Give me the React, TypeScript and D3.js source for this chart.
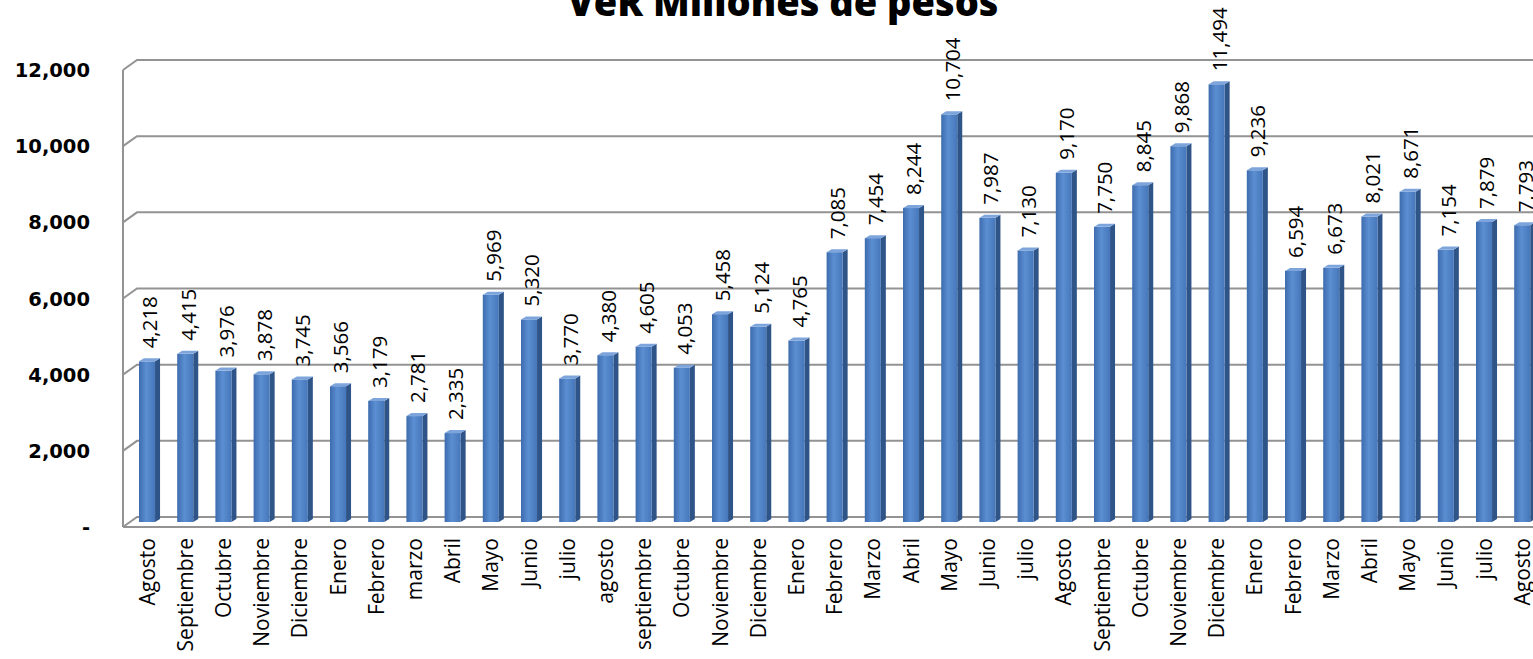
import * as d3 from 'd3';

const months = [
  'Agosto', 'Septiembre', 'Octubre', 'Noviembre', 'Diciembre', 'Enero', 'Febrero', 'marzo', 'Abril',
  'Mayo', 'Junio', 'julio', 'agosto', 'septiembre', 'Octubre', 'Noviembre', 'Diciembre', 'Enero',
  'Febrero', 'Marzo', 'Abril', 'Mayo', 'Junio', 'julio', 'Agosto', 'Septiembre', 'Octubre',
  'Noviembre', 'Diciembre', 'Enero', 'Febrero', 'Marzo', 'Abril', 'Mayo', 'Junio', 'julio', 'Agosto',
];

const ver = [
  4218, 4415, 3976, 3878, 3745, 3566, 3179, 2781, 2335,
  5969, 5320, 3770, 4380, 4605, 4053, 5458, 5124, 4765,
  7085, 7454, 8244, 10704, 7987, 7130, 9170, 7750, 8845,
  9868, 11494, 9236, 6594, 6673, 8021, 8671, 7154, 7879, 7793,
];

const yTicks = [0, 2000, 4000, 6000, 8000, 10000, 12000];

const W = 1533;
const H = 659;
const depth = 5; // half of the wall depth in px
const wallFront = 123;
const wallBack = 137;

export default function App() {
  const ids = months.map((m, i) => `${i}`);
  const step = 38.2;
  const pad = 0.58;
  const x = d3.scaleBand().domain(ids).range([139, 139 + step * (ids.length - pad)]).paddingInner(pad).paddingOuter(0);
  const y = d3.scaleLinear().domain([0, 12000]).range([522, 65]);
  const fmt = d3.format(',');
  const bw = x.bandwidth();
  const side = 5;

  return (
    <svg width={W} height={H} style={{ position: 'absolute', left: 0, top: 0, background: '#fff' }}>
      <defs>
        <linearGradient id="face" x1="0" x2="1" y1="0" y2="0">
          <stop offset="0" stopColor="#3d6cae" />
          <stop offset="0.45" stopColor="#5b8ed2" />
          <stop offset="1" stopColor="#4677ba" />
        </linearGradient>
      </defs>

      <text x={783} y={16} textAnchor="middle" fontFamily="Open Sans, sans-serif" fontWeight={800} fontSize={38} fill="#000">
        VeR Millones de pesos
      </text>

      {/* walls and gridlines */}
      <g stroke="#939393" strokeWidth={2} fill="none">
        <line x1={wallFront} x2={wallFront} y1={y(12000) + depth} y2={y(0) + depth} />
        {yTicks.map((t) => (
          <polyline key={t} points={`${wallFront},${y(t) + depth} ${wallBack},${y(t) - depth} ${W},${y(t) - depth}`} />
        ))}
        <line x1={wallFront} x2={W} y1={y(0) + depth} y2={y(0) + depth} />
      </g>

      {yTicks.map((t) => (
        <text key={t} x={90} y={y(t) + depth} dy="0.36em" textAnchor="end" fontFamily="DejaVu Sans, sans-serif" fontWeight="bold" fontSize={19.5} fill="#000">
          {t === 0 ? '-' : fmt(t)}
        </text>
      ))}

      {/* bars */}
      {ver.map((v, i) => {
        const bx = x(ids[i])!;
        const top = y(v);
        const bottom = y(0);
        return (
          <g key={i}>
            <polygon points={`${bx + bw},${top} ${bx + bw + side},${top - 3} ${bx + bw + side},${bottom - 3} ${bx + bw},${bottom}`} fill="#2f5487" />
            <rect x={bx} y={top} width={bw} height={bottom - top} fill="url(#face)" />
            <polygon points={`${bx},${top} ${bx + side},${top - 3} ${bx + bw + side},${top - 3} ${bx + bw},${top}`} fill="#7da5dc" />
          </g>
        );
      })}

      {/* value labels */}
      {ver.map((v, i) => {
        const cx = x(ids[i])! + bw / 2 + 3;
        const ty = y(v) - 13;
        return (
          <text key={i} transform={`translate(${cx},${ty}) rotate(-90)`} dy="0.36em" textAnchor="start" fontFamily="Open Sans, sans-serif" fontSize={20.5} fill="#000">
            {fmt(v)}
          </text>
        );
      })}

      {/* category labels */}
      {months.map((m, i) => {
        const cx = x(ids[i])! + bw / 2;
        return (
          <text key={i} transform={`translate(${cx},${538}) rotate(-90)`} dy="0.36em" textAnchor="end" fontFamily="Open Sans, sans-serif" fontSize={21} fill="#000">
            {m}
          </text>
        );
      })}
    </svg>
  );
}
